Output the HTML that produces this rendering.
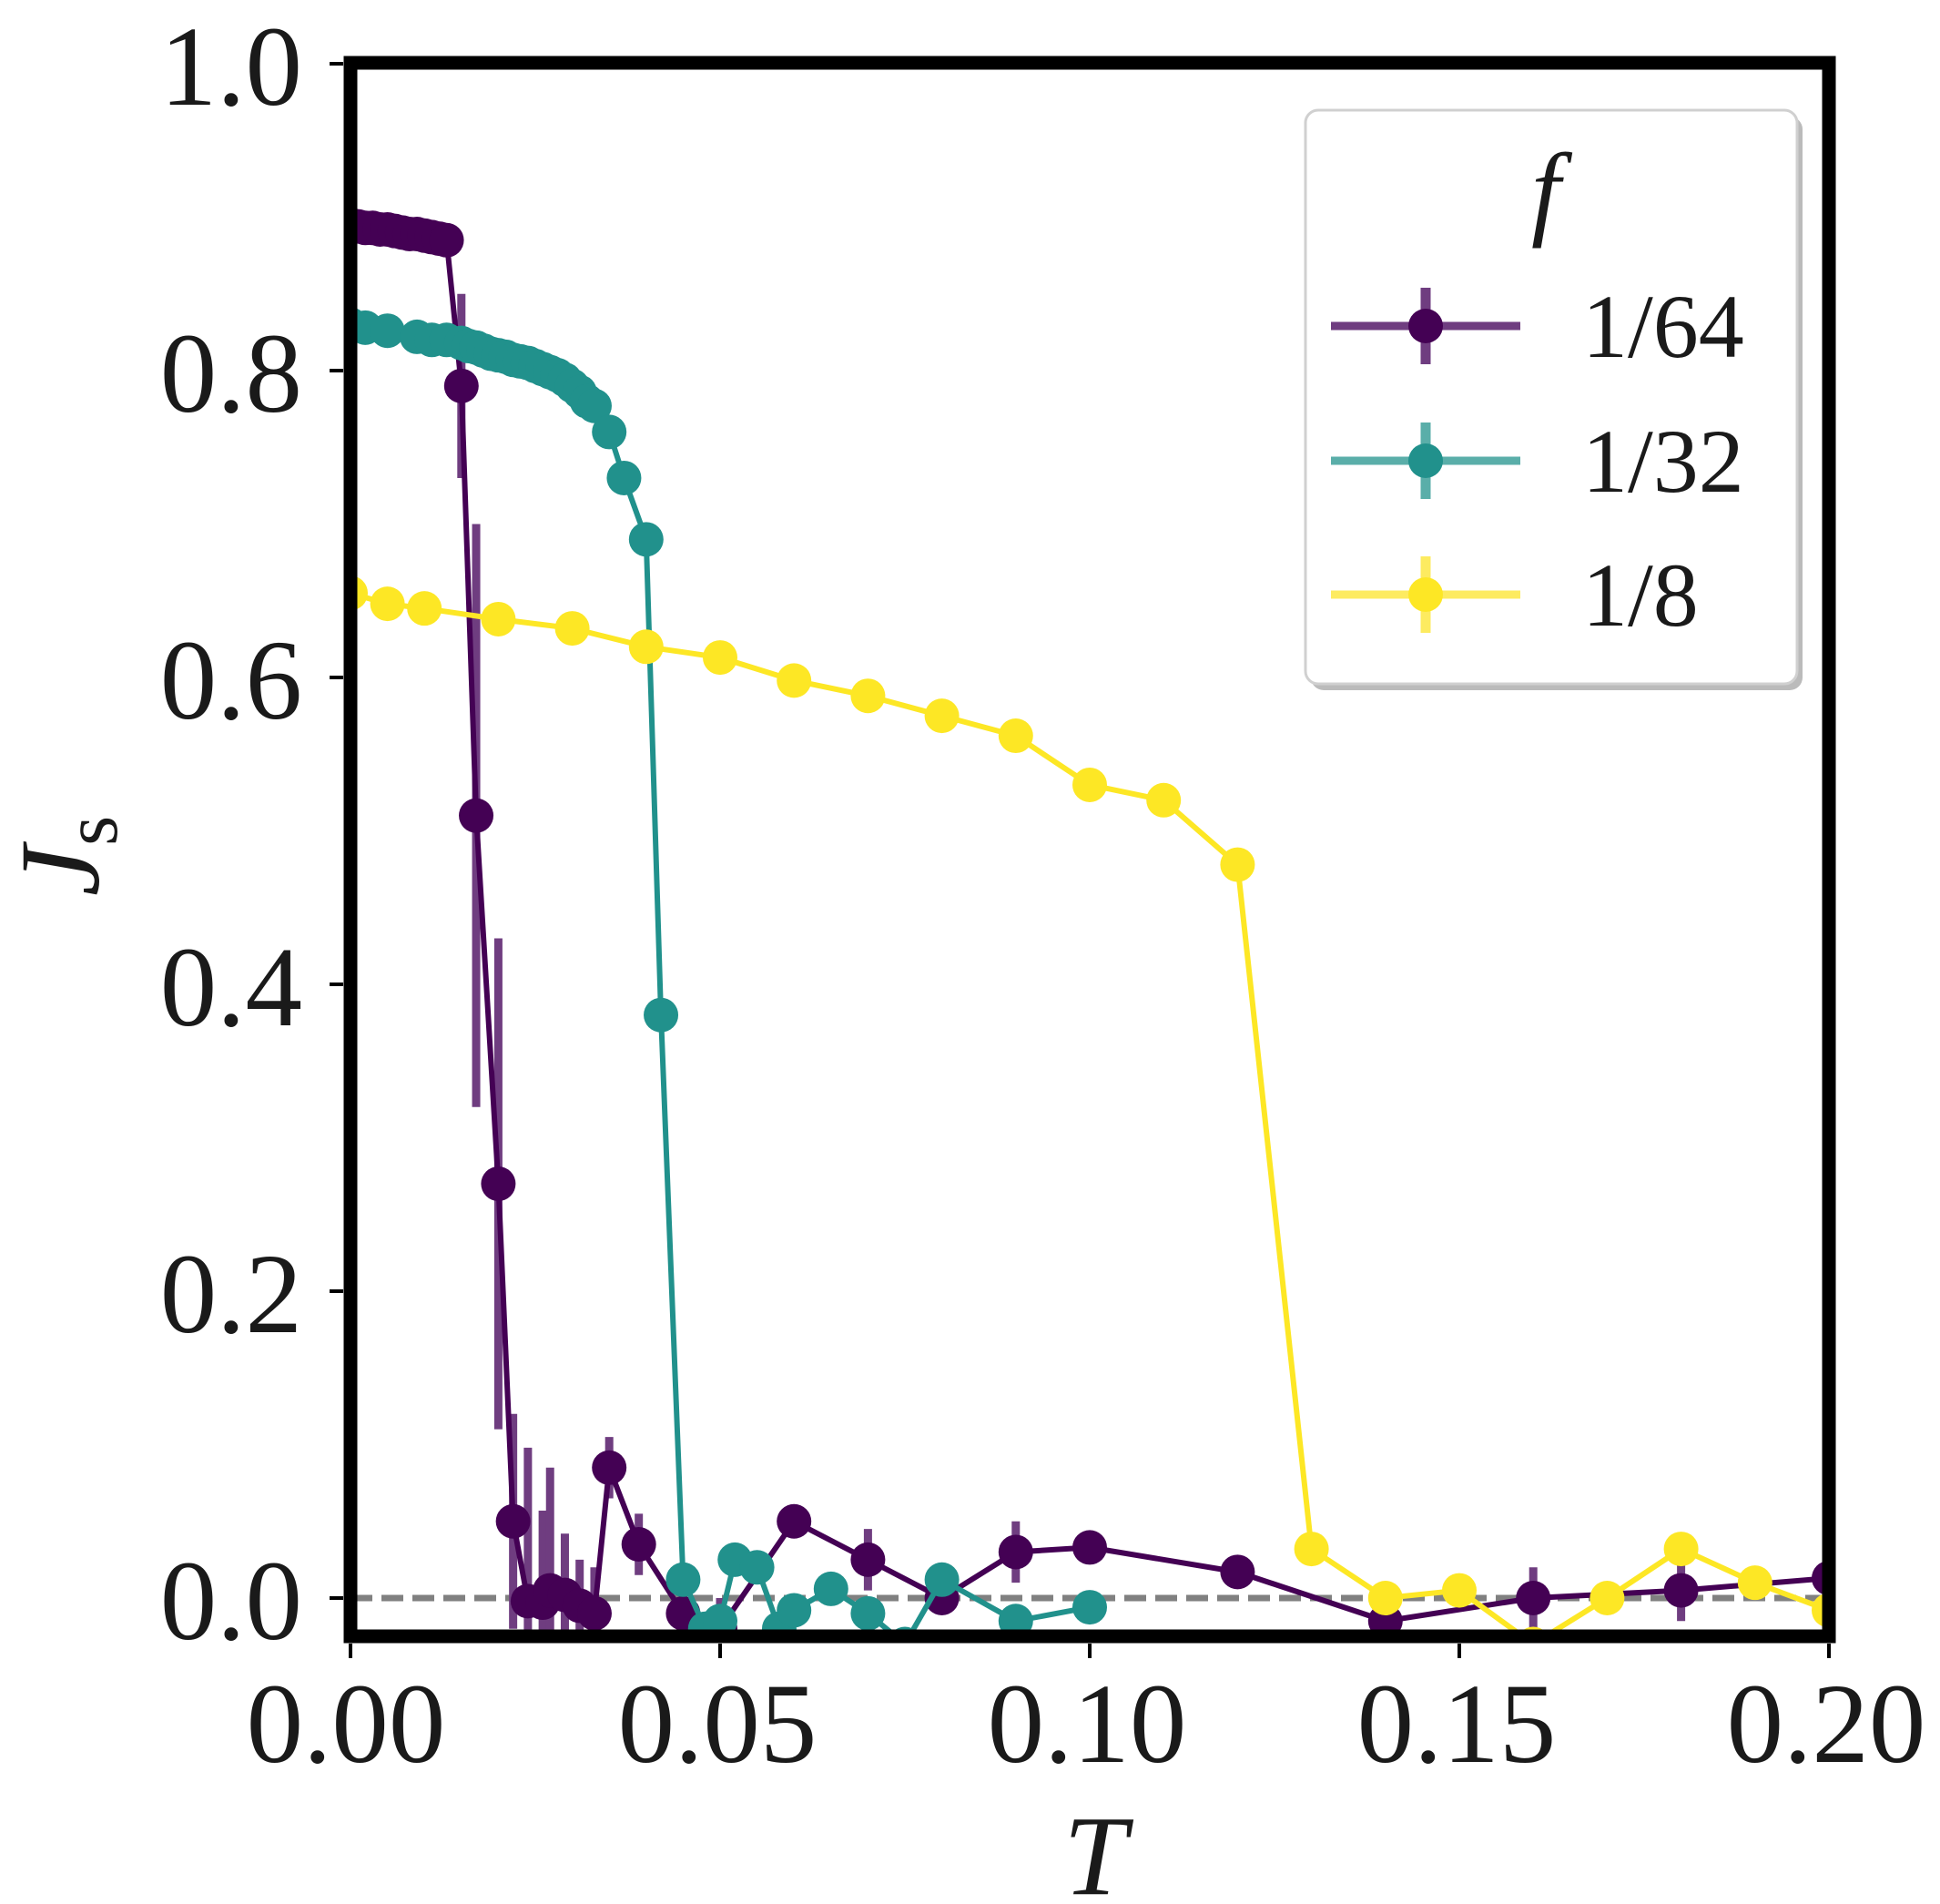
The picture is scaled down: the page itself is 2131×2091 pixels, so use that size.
<!DOCTYPE html>
<html><head><meta charset="utf-8"><style>
html,body{margin:0;padding:0;background:#fff;}
svg{display:block;}
text{font-family:"Liberation Serif","DejaVu Serif",serif;fill:#1a1a1a;}
</style></head><body>
<svg id="s" width="2131" height="2091" viewBox="0 0 2131 2091" xmlns="http://www.w3.org/2000/svg">
<defs><clipPath id="c"><rect x="385" y="69" width="1624" height="1728"/></clipPath></defs>
<rect width="2131" height="2091" fill="#fff"/>
<line x1="385" y1="1755" x2="2009" y2="1755" stroke="#808080" stroke-width="7" stroke-dasharray="24,10"/>
<g id="data" clip-path="url(#c)"></g>
<rect x="385" y="69" width="1624" height="1728" fill="none" stroke="#000" stroke-width="15"/>
<g stroke="#000" stroke-width="4">
<line x1="362" y1="70" x2="377" y2="70"/><line x1="362" y1="407" x2="377" y2="407"/><line x1="362" y1="744" x2="377" y2="744"/><line x1="362" y1="1081" x2="377" y2="1081"/><line x1="362" y1="1418" x2="377" y2="1418"/><line x1="362" y1="1755" x2="377" y2="1755"/>
<line x1="385" y1="1805" x2="385" y2="1821"/><line x1="791" y1="1805" x2="791" y2="1821"/><line x1="1197" y1="1805" x2="1197" y2="1821"/><line x1="1603" y1="1805" x2="1603" y2="1821"/><line x1="2009" y1="1805" x2="2009" y2="1821"/>
</g>
<g font-size="125" text-anchor="end">
<text x="332" y="115">1.0</text><text x="332" y="452">0.8</text><text x="332" y="789">0.6</text><text x="332" y="1126">0.4</text><text x="332" y="1463">0.2</text><text x="332" y="1800">0.0</text>
</g>
<g font-size="125" text-anchor="middle">
<text x="380" y="1935">0.00</text><text x="788" y="1935">0.05</text><text x="1194" y="1935">0.10</text><text x="1600" y="1935">0.15</text><text x="2006" y="1935">0.20</text>
</g>
<text x="1203" y="2080" font-size="125" font-style="italic" text-anchor="middle">T</text>
<text transform="translate(108,940) rotate(-90)" font-size="125" font-style="italic" text-anchor="middle">J<tspan font-size="85" dy="20" font-style="normal">s</tspan></text>
<rect x="1440" y="128" width="540" height="630" rx="14" fill="#bbb"/>
<rect x="1434" y="121" width="540" height="630" rx="14" fill="#fff" stroke="#d0d0d0" stroke-width="3"/>
<text x="1698" y="248" font-size="115" font-style="italic" text-anchor="middle">f</text>
<g id="leg"></g>
<g font-size="100">
<text x="1738" y="392">1/64</text><text x="1738" y="540">1/32</text><text x="1738" y="687">1/8</text>
</g>
</svg>
<script>
var X=t=>385+8120*t, Y=v=>1755-1685*v;
var S=[
{c:"#440154",e:"#6f3d80",d:[[0,.895],[.001,.894],[.002,.893],[.003,.893],[.004,.892],[.005,.892],[.006,.891],[.007,.89],[.008,.889],[.009,.889],[.010,.888],[.011,.887],[.012,.886],[.013,.885],[.015,.79,.06],[.017,.51,.19],[.020,.27,.16],[.022,.05,.07],[.024,-.002,.1],[.026,-.003,.06],[.027,.005,.08],[.029,.002,.04],[.031,-.005,.03],[.033,-.01,.03],[.035,.085,.02],[.039,.035,.02],[.045,-.01,.02],[.05,-.02,.02],[.06,.05,.01],[.07,.025,.02],[.08,0,.01],[.09,.03,.02],[.1,.033,.01],[.12,.017,.01],[.14,-.015,.01],[.16,0,.02],[.18,.005,.02],[.2,.013,.01]]},
{c:"#21918c",e:"#5aaea9",d:[[0,.83],[.002,.828],[.005,.826],[.009,.822],[.011,.82],[.013,.82],[.015,.818],[.016,.816],[.017,.815],[.018,.813],[.019,.811],[.02,.81],[.021,.809],[.022,.807],[.023,.806],[.024,.805],[.025,.803],[.026,.801],[.027,.799],[.028,.797],[.029,.794],[.03,.79],[.031,.786],[.032,.78],[.033,.777],[.035,.76],[.037,.73],[.040,.69],[.042,.38],[.045,.012],[.048,-.02],[.05,-.015],[.052,.025],[.055,.02],[.058,-.02],[.06,-.008],[.065,.006],[.07,-.01],[.075,-.03],[.08,.012],[.09,-.015],[.1,-.006]]},
{c:"#fde725",e:"#fdeb60",d:[[0,.655],[.005,.648],[.01,.645],[.02,.638],[.03,.632],[.04,.62],[.05,.613],[.06,.598],[.07,.588],[.08,.575],[.09,.562],[.1,.53],[.11,.52],[.12,.478],[.13,.032],[.14,0],[.15,.005],[.16,-.03],[.17,0],[.18,.032],[.19,.01],[.2,-.008]]}];
var ns="http://www.w3.org/2000/svg",g=document.getElementById("data");
function el(p,n,a){var e=document.createElementNS(ns,n);for(var k in a)e.setAttribute(k,a[k]);p.appendChild(e);return e;}
S.forEach(s=>{
 s.d.forEach(p=>{if(p[2])el(g,"line",{x1:X(p[0]),x2:X(p[0]),y1:Y(p[1]-p[2]),y2:Y(p[1]+p[2]),stroke:s.e,"stroke-width":9});});
 el(g,"polyline",{points:s.d.map(p=>X(p[0])+","+Y(p[1])).join(" "),fill:"none",stroke:s.c,"stroke-width":6});
 s.d.forEach(p=>el(g,"circle",{cx:X(p[0]),cy:Y(p[1]),r:19,fill:s.c}));
});
var L=document.getElementById("leg");
[[358,0],[506,1],[653,2]].forEach(a=>{var s=S[a[1]];
 el(L,"line",{x1:1462,x2:1670,y1:a[0],y2:a[0],stroke:s.e,"stroke-width":9});
 el(L,"line",{x1:1566,x2:1566,y1:a[0]-42,y2:a[0]+42,stroke:s.e,"stroke-width":11});
 el(L,"circle",{cx:1566,cy:a[0],r:19,fill:s.c});});
</script>
</body></html>
